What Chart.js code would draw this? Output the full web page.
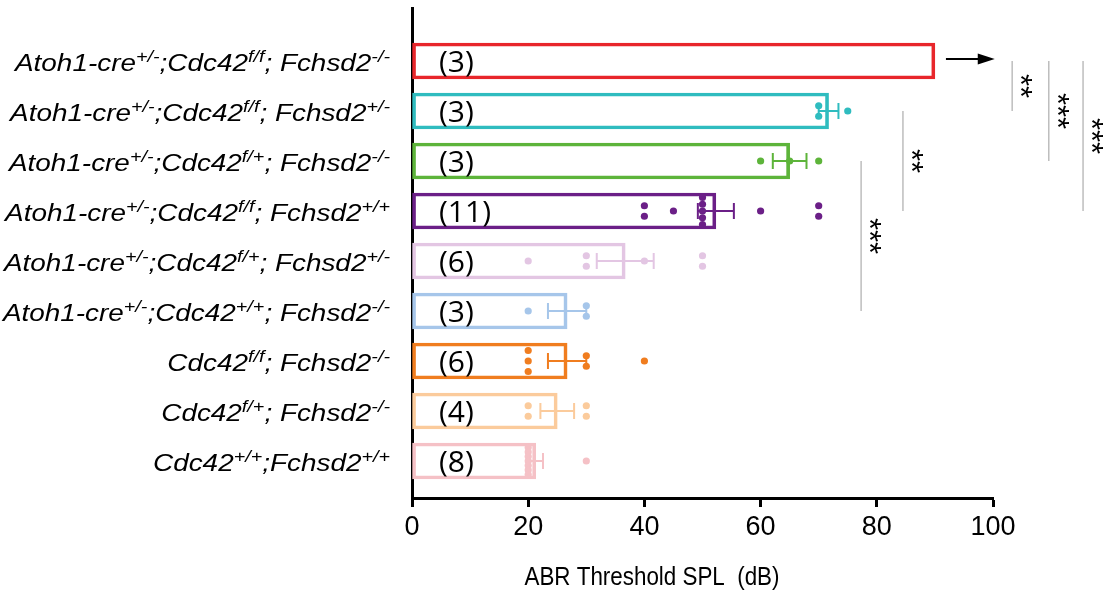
<!DOCTYPE html>
<html>
<head>
<meta charset="utf-8">
<script src="https://cdn.jsdelivr.net/npm/chart.js@4.4.1/dist/chart.umd.min.js"></script>
<style>
  html, body { margin: 0; padding: 0; background: #fff; }
  canvas { display: block; }
</style>
</head>
<body>
<canvas id="abrChart" width="1106" height="590"></canvas>
<script>
// genotype labels, ^{...} marks a superscript
const categories = [
  'Atoh1-cre^{+/-};Cdc42^{f/f}; Fchsd2^{-/-}',
  'Atoh1-cre^{+/-};Cdc42^{f/f}; Fchsd2^{+/-}',
  'Atoh1-cre^{+/-};Cdc42^{f/+}; Fchsd2^{-/-}',
  'Atoh1-cre^{+/-};Cdc42^{f/f}; Fchsd2^{+/+}',
  'Atoh1-cre^{+/-};Cdc42^{f/+}; Fchsd2^{+/-}',
  'Atoh1-cre^{+/-};Cdc42^{+/+}; Fchsd2^{-/-}',
  'Cdc42^{f/f}; Fchsd2^{-/-}',
  'Cdc42^{f/+}; Fchsd2^{-/-}',
  'Cdc42^{+/+};Fchsd2^{+/+}'
];
const nCounts = [3, 3, 3, 11, 6, 3, 6, 4, 8];
const means = [90, 71.7, 65, 52.3, 36.7, 26.7, 26.7, 25, 21.3];
const sems = [0, 1.7, 2.9, 3.1, 4.9, 3.3, 3.3, 2.9, 1.25];
const points = [
  [],
  [70, 70, 75],
  [60, 65, 70],
  [40, 40, 45, 50, 50, 50, 50, 50, 60, 70, 70],
  [20, 30, 30, 40, 50, 50],
  [20, 30, 30],
  [20, 20, 20, 30, 30, 40],
  [20, 20, 30, 30],
  [20, 20, 20, 20, 20, 20, 20, 30]
];
const colors = ['#e8262b', '#2fbcbf', '#5db43a', '#6b1f87', '#e3c6e3',
                '#a6c6ea', '#f07d1f', '#fbcb9c', '#f5c1c6'];
const xTicks = [0, 20, 40, 60, 80, 100];
const sigPairs = [[2, 5], [1, 3], [0, 1], [0, 2], [0, 3]];
const sigLabels = ['***', '**', '**', '***', '***'];
const xTitle = 'ABR Threshold SPL  (dB)';

function parseLabel(s) {
  const parts = [];
  const re = /\^\{([^}]*)\}/g;
  let last = 0, m;
  while ((m = re.exec(s))) {
    if (m.index > last) parts.push({ t: s.slice(last, m.index), sup: false });
    parts.push({ t: m[1], sup: true });
    last = re.lastIndex;
  }
  if (last < s.length) parts.push({ t: s.slice(last), sup: false });
  return parts;
}

const barData = means.map((m, i) => ({ x: m, y: i }));

// stack repeated values vertically inside the bar
const dotData = [], dotColors = [];
points.forEach((vals, i) => {
  const counts = {};
  vals.forEach(v => counts[v] = (counts[v] || 0) + 1);
  Object.keys(counts).forEach(k => {
    const c = counts[k];
    const step = c > 1 ? Math.min(0.21, 0.54 / (c - 1)) : 0;
    for (let j = 0; j < c; j++) {
      dotData.push({ x: +k, y: i + (j - (c - 1) / 2) * step });
      dotColors.push(colors[i]);
    }
  });
});

const mainFont = 'italic 24px "Liberation Sans", Arial, sans-serif';
const supFont = 'italic 17px "Liberation Sans", Arial, sans-serif';

const decorations = {
  id: 'decorations',
  afterDatasetsDraw(chart) {
    const ctx = chart.ctx, xs = chart.scales.x, ys = chart.scales.y;
    ctx.save();
    ctx.lineWidth = 2;
    means.forEach((m, i) => {
      if (!sems[i]) return;
      const x1 = xs.getPixelForValue(m - sems[i]);
      const x2 = xs.getPixelForValue(m + sems[i]);
      const y = ys.getPixelForValue(i);
      ctx.strokeStyle = colors[i];
      ctx.beginPath();
      ctx.moveTo(x1, y); ctx.lineTo(x2, y);
      ctx.moveTo(x1, y - 8); ctx.lineTo(x1, y + 8);
      ctx.moveTo(x2, y - 8); ctx.lineTo(x2, y + 8);
      ctx.stroke();
    });
    ctx.restore();
  },
  afterDraw(chart) {
    const ctx = chart.ctx, xs = chart.scales.x, ys = chart.scales.y;
    ctx.save();

    // category labels with superscripts, right aligned
    const parsed = categories.map(parseLabel);
    const widthOf = parts => parts.reduce((w, p) => {
      ctx.font = p.sup ? supFont : mainFont;
      return w + ctx.measureText(p.t).width;
    }, 0);
    const sx = 375 / widthOf(parsed[0]);
    ctx.fillStyle = '#000';
    ctx.textBaseline = 'alphabetic';
    ctx.textAlign = 'left';
    parsed.forEach((parts, i) => {
      const base = ys.getPixelForValue(i) + 10;
      const w = widthOf(parts);
      ctx.save();
      ctx.translate(390, base);
      ctx.scale(sx, 1);
      let x = -w;
      parts.forEach(p => {
        ctx.font = p.sup ? supFont : mainFont;
        ctx.fillText(p.t, x, p.sup ? -9 : 0);
        x += ctx.measureText(p.t).width;
      });
      ctx.restore();
    });

    // n per group
    ctx.font = '30px "Open Sans", sans-serif';
    nCounts.forEach((n, i) => {
      ctx.fillText('(' + n + ')', 439, ys.getPixelForValue(i) + 11);
    });

    // arrow after the off-scale bar
    const ay = ys.getPixelForValue(0) - 2;
    const ax1 = xs.getPixelForValue(means[0] + 1.9);
    const ax2 = xs.getPixelForValue(100.3);
    ctx.strokeStyle = '#000';
    ctx.lineWidth = 2;
    ctx.beginPath();
    ctx.moveTo(ax1, ay); ctx.lineTo(ax2 - 12, ay);
    ctx.stroke();
    ctx.beginPath();
    ctx.moveTo(ax2, ay); ctx.lineTo(ax2 - 17, ay - 5.5); ctx.lineTo(ax2 - 17, ay + 5.5);
    ctx.closePath();
    ctx.fill();

    // significance lines
    const bracketAt = [77.3, 84.5, 103.3, 109.6, 115.5];
    ctx.font = '31px "Liberation Sans", Arial, sans-serif';
    const m = ctx.measureText('*');
    const starOff = (m.actualBoundingBoxAscent - m.actualBoundingBoxDescent) / 2;
    sigPairs.forEach((pair, k) => {
      const x = xs.getPixelForValue(bracketAt[k]);
      const y1 = ys.getPixelForValue(pair[0]);
      const y2 = ys.getPixelForValue(pair[1]);
      ctx.strokeStyle = '#bdbdbd';
      ctx.lineWidth = 1.5;
      ctx.beginPath();
      ctx.moveTo(x, y1); ctx.lineTo(x, y2);
      ctx.stroke();
      const n = sigLabels[k].length, yc = (y1 + y2) / 2;
      ctx.fillStyle = '#000';
      ctx.textAlign = 'center';
      for (let j = 0; j < n; j++) {
        ctx.save();
        ctx.translate(x + 14, yc + (j - (n - 1) / 2) * 12);
        ctx.rotate(Math.PI / 2);
        ctx.fillText('*', 0, starOff);
        ctx.restore();
      }
    });

    // axis title
    ctx.font = '25px "Liberation Sans", Arial, sans-serif';
    ctx.textAlign = 'left';
    const tw = ctx.measureText(xTitle).width;
    ctx.save();
    ctx.translate(652, 585);
    ctx.scale(255 / tw, 1);
    ctx.fillText(xTitle, -tw / 2, 0);
    ctx.restore();

    ctx.restore();
  }
};

new Chart(document.getElementById('abrChart').getContext('2d'), {
  type: 'bar',
  data: {
    datasets: [
      {
        type: 'scatter',
        data: dotData,
        pointBackgroundColor: dotColors,
        pointBorderWidth: 0,
        pointRadius: 3.6,
        order: 0
      },
      {
        type: 'bar',
        data: barData,
        borderColor: colors,
        backgroundColor: 'rgba(255,255,255,0)',
        borderWidth: 3,
        borderSkipped: false,
        barThickness: 36,
        order: 1
      }
    ]
  },
  options: {
    indexAxis: 'y',
    responsive: false,
    animation: false,
    layout: { padding: { top: 8, right: 113, left: 0, bottom: 0 } },
    plugins: { legend: { display: false }, tooltip: { enabled: false } },
    scales: {
      x: {
        type: 'linear',
        min: 0,
        max: 100,
        afterBuildTicks: s => { s.ticks = xTicks.map(v => ({ value: v })); },
        afterFit: s => { s.height = 92; },
        ticks: { color: '#000', font: { family: '"Liberation Sans", Arial', size: 27 }, padding: 4 },
        grid: { drawOnChartArea: false, drawTicks: true, tickLength: 9, tickWidth: 3, tickColor: '#000' },
        border: { color: '#000', width: 3 }
      },
      y: {
        type: 'linear',
        reverse: true,
        offset: false,
        min: -1.06,
        max: 8.74,
        afterFit: s => { s.width = 412; },
        ticks: { display: false },
        grid: { offset: false, drawOnChartArea: false, drawTicks: false },
        border: { color: '#000', width: 3 }
      }
    }
  },
  plugins: [decorations]
});
</script>
</body>
</html>
